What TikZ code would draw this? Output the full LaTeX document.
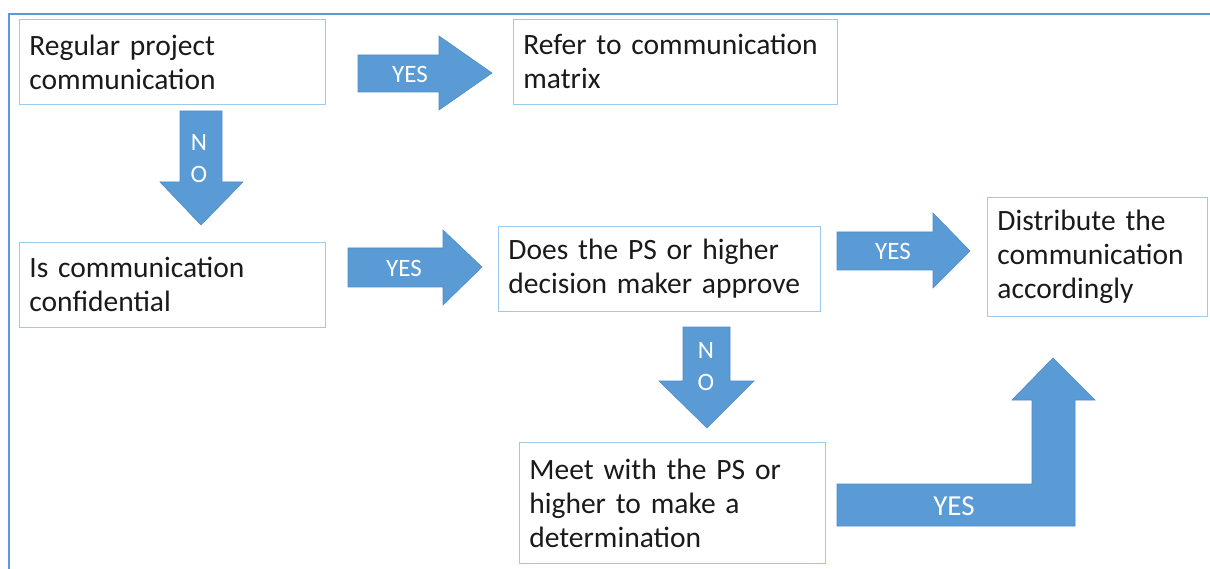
\documentclass[tikz,border=0pt]{standalone}
\usepackage{fontspec}
\setmainfont{Carlito}
\definecolor{arrowblue}{HTML}{5B9BD5}
\definecolor{arrowedge}{HTML}{4F8CC6}
\definecolor{frameblue}{HTML}{5B9BD5}
\definecolor{boxedge}{HTML}{9CCBEA}
\definecolor{textgray}{HTML}{1A1A1A}
\tikzset{
  stepbox/.style={draw=boxedge, line width=0.8pt, align=left, anchor=north west,
    inner xsep=10pt, inner ysep=0pt, text=textgray,
    font=\fontsize{29.5}{34}\selectfont},
  blockarrow/.style={fill=arrowblue, draw=arrowedge, line width=0.6pt, line join=miter},
  arrowlabel/.style={text=white, font=\fontsize{25}{28}\selectfont, inner sep=0pt},
  nolabel/.style={text=white, font=\fontsize{25}{32}\selectfont, align=center, inner sep=0pt}
}
\begin{document}
\begin{tikzpicture}[x=1pt,y=-1pt]
\useasboundingbox (0,0) rectangle (1210,569);
% frame
\draw[frameblue, line width=2pt] (9,14) rectangle (1220,580);
% boxes
\node[stepbox, text width=286pt, minimum height=85pt] (b1) at (19,19) {Regular project\\communication};
\node[stepbox, text width=304pt, minimum height=85pt] (b2) at (513,19) {Refer to communication\\matrix};
\node[stepbox, text width=286pt, minimum height=85pt] (b3) at (19,242) {Is communication\\confidential};
\node[stepbox, text width=302pt, minimum height=85pt] (b4) at (498,226) {Does the PS or higher\\decision maker approve};
\node[stepbox, text width=286pt, minimum height=121pt] (b5) at (519,442) {Meet with the PS or\\higher to make a\\determination};
\node[stepbox, text width=200pt, minimum height=119pt] (b6) at (987,197) {Distribute the\\communication\\accordingly};
% YES1: b1 -> b2
\draw[blockarrow] (358,55) -- (439,55) -- (439,36) -- (492,73) -- (439,110) -- (439,92) -- (358,92) -- cycle;
\node[arrowlabel] (y1) at (410,74) {YES};
% YES2: b3 -> b4
\draw[blockarrow] (348,248) -- (443,248) -- (443,230) -- (482,267) -- (443,305) -- (443,287) -- (348,287) -- cycle;
\node[arrowlabel] (y2) at (404,268) {YES};
% YES3: b4 -> b6
\draw[blockarrow] (837,232) -- (933,232) -- (933,213) -- (970,251) -- (933,288) -- (933,270) -- (837,270) -- cycle;
\node[arrowlabel] (y3) at (893,251) {YES};
% NO1: b1 -> b3
\draw[blockarrow] (180,111) -- (222,111) -- (222,182) -- (243,182) -- (201,225) -- (160,182) -- (180,182) -- cycle;
\node[nolabel] (n1) at (199,159) {N\\O};
% NO2: b4 -> b5
\draw[blockarrow] (683,327) -- (730,327) -- (730,381) -- (754,381) -- (707,428) -- (659,381) -- (683,381) -- cycle;
\node[nolabel] (n2) at (706,367) {N\\O};
% YES4: b5 -> b6 (bent)
\draw[blockarrow] (837,484) -- (1032,484) -- (1032,400) -- (1012,400) -- (1053,358) -- (1095,400) -- (1075,400) -- (1075,526) -- (837,526) -- cycle;
\node[arrowlabel, font=\fontsize{29}{32}\selectfont] (y4) at (954,506) {YES};
\end{tikzpicture}
\end{document}
